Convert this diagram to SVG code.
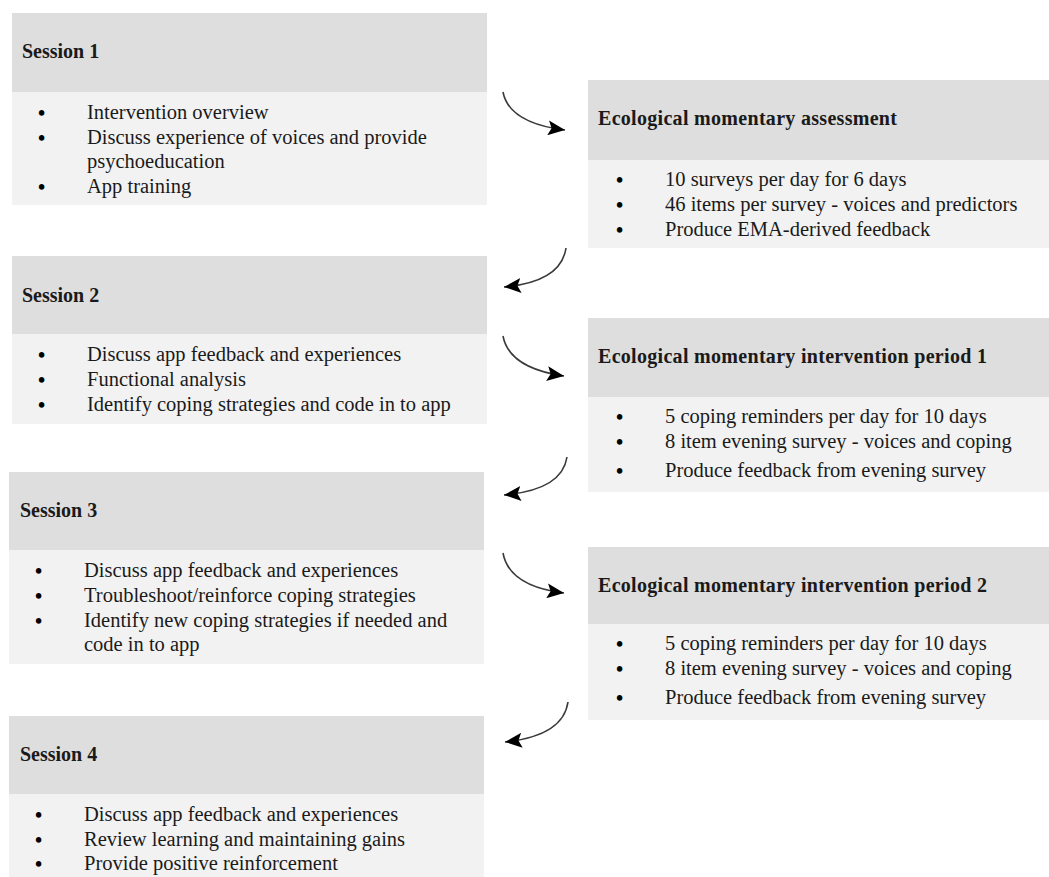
<svg xmlns="http://www.w3.org/2000/svg" width="1049" height="877" viewBox="0 0 1049 877">
  <style>
    .hdr { fill: #dedede; }
    .body { fill: #f2f2f2; }
    .title { font-family: "Liberation Serif", "Times New Roman", serif; font-size: 20px; font-weight: bold; fill: #1a1a1a; }
    .wide { letter-spacing: 0.3px; }
    .item { font-family: "Liberation Serif", "Times New Roman", serif; font-size: 20.5px; fill: #1a1a1a; }
    .dot { font-family: "Liberation Serif", "Times New Roman", serif; font-size: 20.5px; font-weight: bold; fill: #000; }
    .conn { fill: none; stroke: #3a3a3a; stroke-width: 1.6; marker-end: url(#head); }
  </style>
  <defs>
    <marker id="head" markerUnits="userSpaceOnUse" markerWidth="19" markerHeight="15" refX="17" refY="7.5" orient="auto">
      <path d="M0,0 L17,7.5 L0,15 L3.5,7.5 z" fill="#000"/>
    </marker>
  </defs>
  <rect width="1049" height="877" fill="#ffffff"/>

  <!-- Session 1 -->
  <g id="session1">
    <rect class="hdr" x="12" y="13" width="475" height="79"/>
    <rect class="body" x="12" y="92" width="475" height="113"/>
    <text class="title" x="22" y="58">Session 1</text>
    <text class="dot" x="38" y="120">•</text>
    <text class="item" x="87" y="119">Intervention overview</text>
    <text class="dot" x="38" y="145">•</text>
    <text class="item" x="87" y="144">Discuss experience of voices and provide</text>
    <text class="item" x="87" y="168">psychoeducation</text>
    <text class="dot" x="38" y="194">•</text>
    <text class="item" x="87" y="193">App training</text>
  </g>

  <!-- Ecological momentary assessment -->
  <g id="ema">
    <rect class="hdr" x="588" y="80" width="461" height="80"/>
    <rect class="body" x="588" y="160" width="461" height="88"/>
    <text class="title wide" x="598" y="125">Ecological momentary assessment</text>
    <text class="dot" x="616" y="187">•</text>
    <text class="item" x="665" y="186">10 surveys per day for 6 days</text>
    <text class="dot" x="616" y="212">•</text>
    <text class="item" x="665" y="211">46 items per survey - voices and predictors</text>
    <text class="dot" x="616" y="237">•</text>
    <text class="item" x="665" y="236">Produce EMA-derived feedback</text>
  </g>

  <!-- Session 2 -->
  <g id="session2">
    <rect class="hdr" x="12" y="256" width="475" height="78"/>
    <rect class="body" x="12" y="334" width="475" height="90"/>
    <text class="title" x="22" y="302">Session 2</text>
    <text class="dot" x="38" y="362">•</text>
    <text class="item" x="87" y="361">Discuss app feedback and experiences</text>
    <text class="dot" x="38" y="387">•</text>
    <text class="item" x="87" y="386">Functional analysis</text>
    <text class="dot" x="38" y="412">•</text>
    <text class="item" x="87" y="411">Identify coping strategies and code in to app</text>
  </g>

  <!-- Ecological momentary intervention period 1 -->
  <g id="emi1">
    <rect class="hdr" x="588" y="318" width="461" height="79"/>
    <rect class="body" x="588" y="397" width="461" height="95"/>
    <text class="title wide" x="598" y="363">Ecological momentary intervention period 1</text>
    <text class="dot" x="616" y="424">•</text>
    <text class="item" x="665" y="423">5 coping reminders per day for 10 days</text>
    <text class="dot" x="616" y="449">•</text>
    <text class="item" x="665" y="448">8 item evening survey - voices and coping</text>
    <text class="dot" x="616" y="478">•</text>
    <text class="item" x="665" y="477">Produce feedback from evening survey</text>
  </g>

  <!-- Session 3 -->
  <g id="session3">
    <rect class="hdr" x="9" y="472" width="475" height="78"/>
    <rect class="body" x="9" y="550" width="475" height="114"/>
    <text class="title" x="20" y="517">Session 3</text>
    <text class="dot" x="35" y="578">•</text>
    <text class="item" x="84" y="577">Discuss app feedback and experiences</text>
    <text class="dot" x="35" y="603">•</text>
    <text class="item" x="84" y="602">Troubleshoot/reinforce coping strategies</text>
    <text class="dot" x="35" y="628">•</text>
    <text class="item" x="84" y="627">Identify new coping strategies if needed and</text>
    <text class="item" x="84" y="651">code in to app</text>
  </g>

  <!-- Ecological momentary intervention period 2 -->
  <g id="emi2">
    <rect class="hdr" x="588" y="547" width="461" height="77"/>
    <rect class="body" x="588" y="624" width="461" height="96"/>
    <text class="title wide" x="598" y="592">Ecological momentary intervention period 2</text>
    <text class="dot" x="616" y="651">•</text>
    <text class="item" x="665" y="650">5 coping reminders per day for 10 days</text>
    <text class="dot" x="616" y="676">•</text>
    <text class="item" x="665" y="675">8 item evening survey - voices and coping</text>
    <text class="dot" x="616" y="705">•</text>
    <text class="item" x="665" y="704">Produce feedback from evening survey</text>
  </g>

  <!-- Session 4 -->
  <g id="session4">
    <rect class="hdr" x="9" y="716" width="475" height="78"/>
    <rect class="body" x="9" y="794" width="475" height="83"/>
    <text class="title" x="20" y="761">Session 4</text>
    <text class="dot" x="35" y="822">•</text>
    <text class="item" x="84" y="821">Discuss app feedback and experiences</text>
    <text class="dot" x="35" y="847">•</text>
    <text class="item" x="84" y="846">Review learning and maintaining gains</text>
    <text class="dot" x="35" y="871">•</text>
    <text class="item" x="84" y="870">Provide positive reinforcement</text>
  </g>

  <!-- Curved flow connectors -->
  <g id="connectors">
    <path class="conn" d="M503,92 Q509,123 565,130"/>
    <path class="conn" d="M566,248 Q561,282 504,287"/>
    <path class="conn" d="M503,336 Q509,368 564,376"/>
    <path class="conn" d="M567,457 Q562,490 504,495"/>
    <path class="conn" d="M503,553 Q509,586 564,593"/>
    <path class="conn" d="M568,702 Q563,736 505,742"/>
  </g>
</svg>
